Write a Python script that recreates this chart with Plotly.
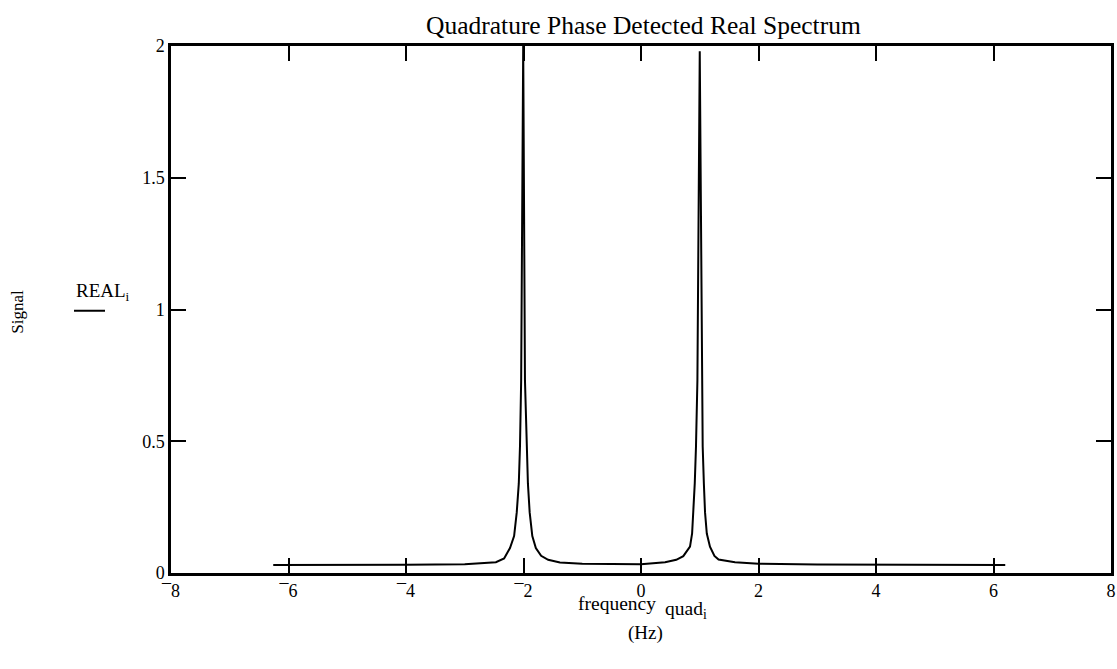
import plotly.graph_objects as go

# Data
freq = [-6.26, -5.0, -4.0, -3.0, -2.6, -2.47, -2.33, -2.23, -2.16, -2.115, -2.08, -2.06, -2.04,
        -2.005,
        -1.975, -1.95, -1.925, -1.895, -1.85, -1.79, -1.70, -1.58, -1.38, -1.0, -0.5,
        0.0, 0.41, 0.6, 0.72, 0.834, 0.87, 0.89, 0.915, 0.936, 0.96,
        1.0,
        1.033, 1.05, 1.07, 1.09, 1.12, 1.174, 1.25, 1.32, 1.6, 2.0, 3.0, 4.5, 6.2]
real = [0.030, 0.030, 0.031, 0.033, 0.037, 0.041, 0.055, 0.095, 0.14, 0.23, 0.34, 0.48, 0.73,
        2.0,
        0.73, 0.48, 0.34, 0.23, 0.14, 0.095, 0.065, 0.05, 0.04, 0.035, 0.033,
        0.033, 0.041, 0.05, 0.064, 0.10, 0.15, 0.23, 0.34, 0.48, 0.73,
        1.98,
        0.73, 0.48, 0.34, 0.23, 0.15, 0.10, 0.065, 0.051, 0.041, 0.035, 0.032, 0.031, 0.030]

x_ticks = [-8, -6, -4, -2, 0, 2, 4, 6, 8]
x_ticktext = ["\u00af8", "\u00af6", "\u00af4", "\u00af2", "0", "2", "4", "6", "8"]
y_ticks = [0, 0.5, 1, 1.5, 2]
y_ticktext = ["0", "0.5", "1", "1.5", "2"]

FONT = "Liberation Serif"
W, H = 1117, 669
# plot box in screen pixels: x 171..1111, y 46..573.5
L, R, T = 171, W - 1111, 46
B = H - 573.5
PW, PH = W - L - R, H - T - B


def px(xp):
    return (xp - L) / PW


def py(yp):
    return (H - B - yp) / PH


fig = go.Figure()
fig.add_trace(go.Scatter(x=freq, y=real, mode="lines",
                         line=dict(color="black", width=2), showlegend=False,
                         hoverinfo="skip"))

axis_common = dict(showgrid=False, zeroline=False, showline=True, linecolor="black",
                   linewidth=2.5, mirror="ticks", ticks="inside", ticklen=15,
                   tickwidth=1.5, tickcolor="black", automargin=False,
                   tickfont=dict(family=FONT, size=18, color="black"))

fig.update_xaxes(range=[-8, 8], tickvals=x_ticks, ticktext=x_ticktext, **axis_common)
fig.update_yaxes(range=[0, 2], tickvals=y_ticks, ticktext=y_ticktext, **axis_common)

annotations = [
    dict(text="Quadrature Phase Detected Real Spectrum", x=px(643), y=py(25),
         font=dict(size=25.5)),
    dict(text="Signal", x=px(18), y=py(312), textangle=-90, font=dict(size=17)),
    dict(text="REAL<sub>i</sub>", x=px(103), y=py(292), font=dict(size=19)),
    dict(text="frequency", x=px(617), y=py(604), font=dict(size=19.5)),
    dict(text="quad<sub>i</sub>", x=px(686), y=py(611), font=dict(size=19.5)),
    dict(text="(Hz)", x=px(645), y=py(634), font=dict(size=19)),
]
for a in annotations:
    a.update(xref="paper", yref="paper", showarrow=False, xanchor="center",
             yanchor="middle")
    a["font"].update(family=FONT, color="black")
fig.update_layout(annotations=annotations)

fig.add_shape(type="line", xref="paper", yref="paper", x0=px(74), x1=px(105),
              y0=py(311), y1=py(311), line=dict(color="black", width=2))

fig.update_layout(width=W, height=H, margin=dict(l=L, r=R, t=T, b=B, autoexpand=False),
                  plot_bgcolor="white", paper_bgcolor="white",
                  font=dict(family=FONT, color="black"))

fig.write_html("out.html", config={"displayModeBar": False},
               post_script="document.body.style.margin='0';"
                           "document.body.style.overflow='hidden';")
